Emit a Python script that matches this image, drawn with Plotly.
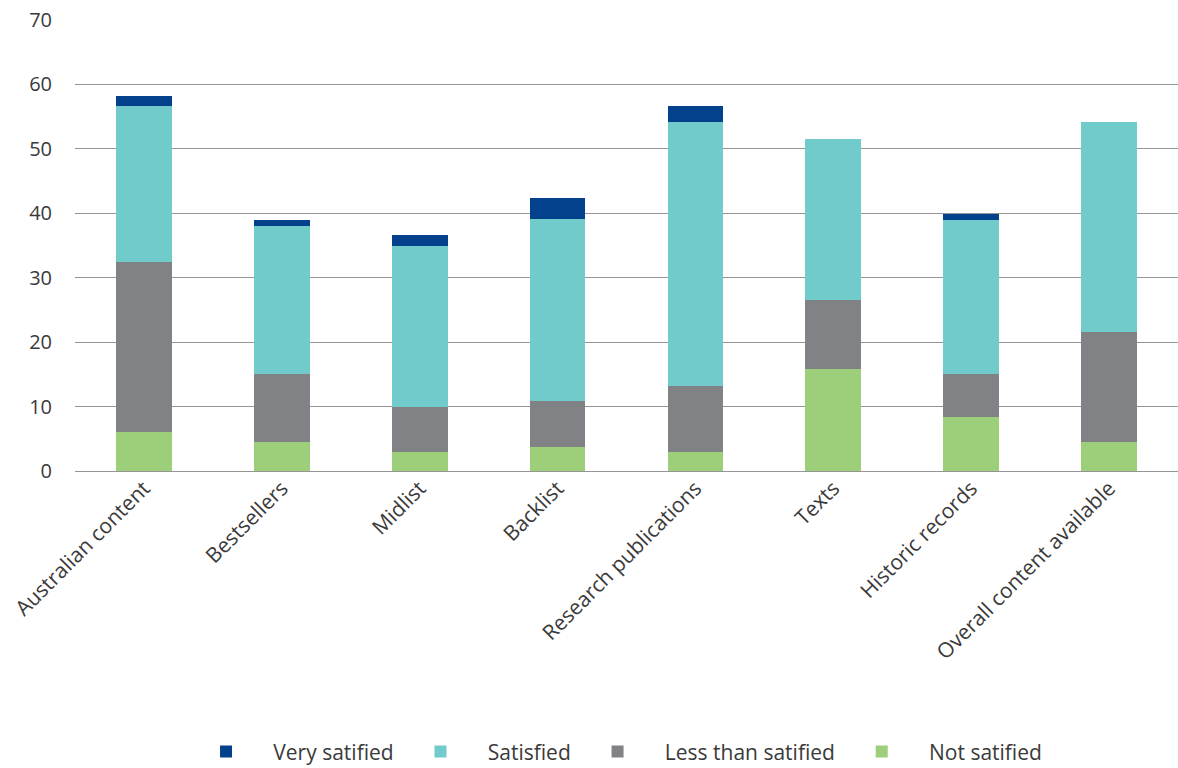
import plotly.graph_objects as go

categories = ["Australian content", "Bestsellers", "Midlist", "Backlist",
              "Research publications", "Texts", "Historic records",
              "Overall content available"]
not_satisfied = [6.0, 4.5, 2.9, 3.7, 2.9, 15.8, 8.4, 4.5]
less_than_satisfied = [26.4, 10.5, 7.1, 7.1, 10.3, 10.8, 6.6, 17.1]
satisfied = [24.2, 23.1, 24.9, 28.3, 40.9, 25.0, 24.0, 32.5]
very_satisfied = [1.6, 0.8, 1.7, 3.2, 2.5, 0.0, 0.9, 0.0]

series = [
    ("Not satified", not_satisfied, "#9DCE79"),
    ("Less than satified", less_than_satisfied, "#818286"),
    ("Satisfied", satisfied, "#70CBCA"),
    ("Very satified", very_satisfied, "#03418C"),
]

pad_l = "\u00a0" * 5
pad_r = "\u00a0" * 4

fig = go.Figure()
for name, vals, color in series:
    fig.add_trace(go.Bar(x=categories, y=vals, name=pad_l + name + pad_r,
                         marker=dict(color=color, line=dict(width=0))))

font_family = "Open Sans, Lato, sans-serif"
fig.update_layout(
    barmode="stack",
    bargap=0.595,
    width=1178, height=768,
    margin=dict(l=75, r=0, t=20, b=297, autoexpand=False),
    plot_bgcolor="white", paper_bgcolor="white",
    font=dict(family=font_family, size=20, color="#3a3a3a"),
    showlegend=True,
    legend=dict(orientation="h", x=0.51, xanchor="center",
                yref="container", y=0.021, yanchor="middle",
                traceorder="reversed", font=dict(size=21), itemwidth=30),
    xaxis=dict(tickangle=-45, showgrid=False, showline=False, ticks="",
               tickfont=dict(size=21), automargin=False),
    yaxis=dict(range=[0, 70], dtick=10, showgrid=True, gridcolor="#959595",
               gridwidth=1, zeroline=True, zerolinecolor="#959595", zerolinewidth=1,
               showline=False, ticks="", tickfont=dict(size=20), ticklabelstandoff=22,
               automargin=False),
)

fig.write_html("out.html")
